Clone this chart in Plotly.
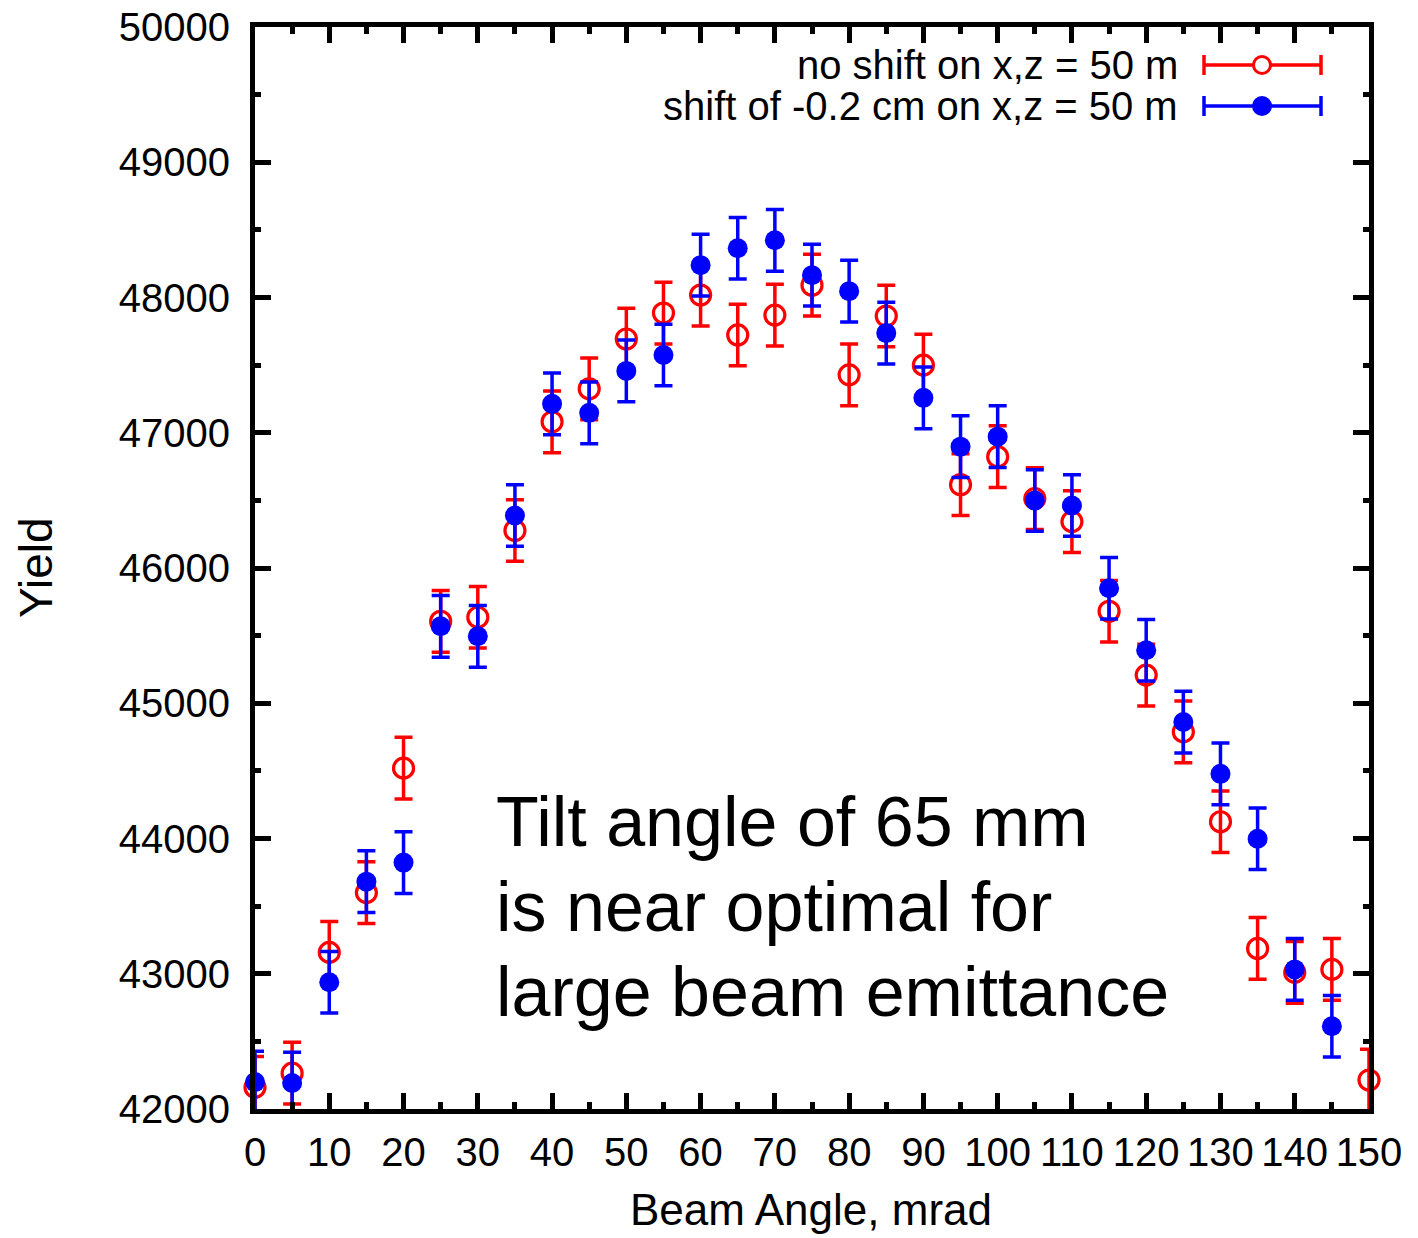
import plotly.graph_objects as go

angle = [0, 5, 10, 15, 20, 25, 30, 35, 40, 45, 50, 55, 60, 65, 70, 75, 80, 85, 90, 95,
         100, 105, 110, 115, 120, 125, 130, 135, 140, 145, 150]
yield_noshift = [42160, 42265, 43158, 43600, 44520, 45606, 45636, 46277, 47081, 47325,
                 47693, 47885, 48018, 47723, 47870, 48091, 47428, 47863, 47500, 46616,
                 46823, 46513, 46343, 45680, 45208, 44788, 44124, 43187, 43010, 43032, 42214]
err_noshift = [228, 228, 228, 228, 228, 228, 228, 228, 228, 228, 228, 228, 228, 228, 228, 228,
               228, 228, 228, 228, 228, 228, 228, 228, 228, 228, 228, 228, 228, 228, 228]

angle_shift = [0, 5, 10, 15, 20, 25, 30, 35, 40, 45, 50, 55, 60, 65, 70, 75, 80, 85, 90, 95,
               100, 105, 110, 115, 120, 125, 130, 135, 140, 145]
yield_shift = [42199, 42192, 42937, 43681, 43822, 45569, 45495, 46388, 47214, 47147,
               47457, 47575, 48239, 48364, 48423, 48165, 48047, 47737, 47258, 46897,
               46971, 46499, 46462, 45850, 45392, 44861, 44478, 43998, 43032, 42612]
err_shift = [228, 228, 228, 228, 228, 228, 228, 228, 228, 228, 228, 228, 228, 228, 228,
             228, 228, 228, 228, 228, 228, 228, 228, 228, 228, 228, 228, 228, 228, 228]

label_noshift = "no shift on x,z = 50 m"
label_shift = "shift of -0.2 cm on x,z = 50 m"
note_lines = ["Tilt angle of 65 mm", "is near optimal for", "large beam emittance"]

RED = "#ff0000"
BLUE = "#0000ff"
FONT = "Liberation Sans, Arial, sans-serif"

W, H = 1418, 1238
L, R, T, B = 255, 49, 27, 129
PW, PH = W - L - R, H - T - B

fig = go.Figure()
fig.add_trace(go.Scatter(
    x=angle, y=yield_noshift, mode="markers", name=label_noshift,
    marker=dict(symbol="circle-open", size=20, color=RED, line=dict(width=3.2, color=RED)),
    error_y=dict(type="data", array=err_noshift, color=RED, thickness=3.5, width=9),
    cliponaxis=False, showlegend=False))
fig.add_trace(go.Scatter(
    x=angle_shift, y=yield_shift, mode="markers", name=label_shift,
    marker=dict(symbol="circle", size=20, color=BLUE),
    error_y=dict(type="data", array=err_shift, color=BLUE, thickness=3.5, width=9),
    cliponaxis=False, showlegend=False))

axis_common = dict(
    showline=True, linecolor="black", linewidth=5, mirror="ticks",
    ticks="inside", ticklen=16, tickwidth=5, tickcolor="black",
    showgrid=False, zeroline=False, layer="above traces", automargin=False,
    tickfont=dict(family=FONT, size=40, color="black"),
)

fig.update_xaxes(range=[0, 150], tickmode="linear", tick0=0, dtick=10, tickformat="d",
                 minor=dict(dtick=5, ticks="inside", ticklen=7, tickwidth=5, tickcolor="black"),
                 ticklabelstandoff=4, **axis_common)
fig.update_yaxes(range=[42000, 50000], tickmode="linear", tick0=42000, dtick=1000, tickformat="d",
                 minor=dict(dtick=500, ticks="inside", ticklen=6, tickwidth=5, tickcolor="black"),
                 ticklabelstandoff=12, **axis_common)

# pixel -> paper helpers
def px(X):
    return (X - L) / PW

def py(Y):
    return (H - B - Y) / PH

annotations = [
    dict(text="Beam Angle, mrad", xref="paper", yref="paper", x=px(811), y=py(1209),
         showarrow=False, xanchor="center", yanchor="middle",
         font=dict(family=FONT, size=44, color="black")),
    dict(text="Yield", xref="paper", yref="paper", x=px(36), y=py(568), textangle=-90,
         showarrow=False, xanchor="center", yanchor="middle",
         font=dict(family=FONT, size=46, color="black")),
]
for i, line in enumerate(note_lines):
    annotations.append(dict(text=line, xref="paper", yref="paper", x=px(494), y=py(822 + 85 * i),
                            showarrow=False, xanchor="left", yanchor="middle",
                            font=dict(family=FONT, size=70, color="black")))

shapes = []
legend_rows = [(label_noshift, RED, 65, False), (label_shift, BLUE, 106, True)]
for text, col, Y, filled in legend_rows:
    annotations.append(dict(text=text, xref="paper", yref="paper", x=px(1180), y=py(Y),
                            showarrow=False, xanchor="right", yanchor="middle",
                            font=dict(family=FONT, size=40, color="black")))
    shapes.append(dict(type="line", xref="paper", yref="paper", x0=px(1203), x1=px(1322),
                       y0=py(Y), y1=py(Y), line=dict(color=col, width=3.5)))
    for Xc in (1204, 1321):
        shapes.append(dict(type="line", xref="paper", yref="paper", x0=px(Xc), x1=px(Xc),
                           y0=py(Y - 10), y1=py(Y + 10), line=dict(color=col, width=3.5)))
    shapes.append(dict(type="circle", xref="paper", yref="paper",
                       xsizemode="pixel", ysizemode="pixel",
                       xanchor=px(1262), yanchor=py(Y), x0=-8.5, x1=8.5, y0=-8.5, y1=8.5,
                       line=dict(color=col, width=3),
                       fillcolor=col if filled else "white"))

fig.update_layout(
    width=W, height=H,
    margin=dict(l=L, r=R, t=T, b=B),
    paper_bgcolor="white", plot_bgcolor="white",
    showlegend=False,
    annotations=annotations, shapes=shapes,
)

fig.write_html("out.html")
